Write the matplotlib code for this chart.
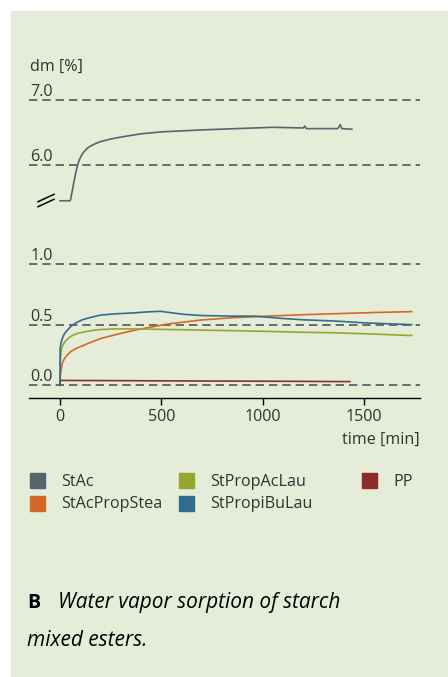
import matplotlib.pyplot as plt
from matplotlib.lines import Line2D
from matplotlib.patches import Rectangle
import matplotlib.transforms as mtransforms

plt.rcParams['font.family'] = ['Open Sans', 'DejaVu Sans']

W, H = 448, 677

# StAc (upper, broken axis part)
t_stac = [0, 50, 53, 57, 62, 67, 72, 77, 82, 87, 93, 100, 110, 120, 135, 150, 175,
          200, 250, 300, 400, 500, 700, 870, 1050, 1200, 1208, 1215, 1370, 1383,
          1390, 1440]
v_stac = [5.45, 5.45, 5.48, 5.55, 5.63, 5.71, 5.79, 5.87, 5.94, 6.00, 6.06, 6.11,
          6.17, 6.21, 6.26, 6.29, 6.33, 6.36, 6.40, 6.43, 6.48, 6.51, 6.54, 6.56,
          6.58, 6.57, 6.60, 6.56, 6.56, 6.62, 6.56, 6.55]

# lower part
t_blue = [0, 0.5, 5, 10, 20, 36, 60, 85, 110, 140, 200, 280, 365, 430, 497, 540,
          612, 700, 858, 957, 1000, 1105, 1200, 1352, 1500, 1650, 1735]
v_blue = [0.0, 0.30, 0.35, 0.38, 0.42, 0.455, 0.495, 0.52, 0.54, 0.555, 0.579,
          0.59, 0.597, 0.605, 0.61, 0.60, 0.585, 0.575, 0.57, 0.57, 0.565, 0.55,
          0.54, 0.53, 0.515, 0.505, 0.50]

t_orange = [0, 2, 5, 11, 20, 36, 55, 80, 118, 160, 200, 280, 365, 450, 530, 694,
            850, 1023, 1200, 1352, 1550, 1735]
v_orange = [0.0, 0.08, 0.12, 0.18, 0.215, 0.25, 0.28, 0.305, 0.33, 0.36, 0.385,
            0.42, 0.453, 0.48, 0.505, 0.538, 0.557, 0.57, 0.582, 0.59, 0.60, 0.607]

t_green = [0, 2, 5, 11, 20, 36, 55, 80, 118, 160, 200, 280, 365, 530, 700, 858,
           1000, 1200, 1352, 1550, 1735]
v_green = [0.0, 0.2, 0.27, 0.32, 0.35, 0.38, 0.405, 0.425, 0.44, 0.452, 0.46,
           0.465, 0.465, 0.46, 0.455, 0.45, 0.445, 0.437, 0.433, 0.422, 0.41]

t_pp = [0, 2, 300, 700, 1100, 1430]
v_pp = [0.0, 0.04, 0.038, 0.035, 0.033, 0.03]

labels = ["StAc", "StAcPropStea", "StPropAcLau", "StPropiBuLau", "PP"]
colors = ["#56646E", "#D5672A", "#95A72F", "#346C8F", "#8E2C2C"]

top_ticks = [6.0, 7.0]
bottom_ticks = [0.0, 0.5, 1.0]
x_ticks = [0, 500, 1000, 1500]

FS = 11.6
TXT = "#333333"

fig = plt.figure(figsize=(W / 100, H / 100), dpi=100)
fig.patch.set_facecolor("white")
fig.patches.append(Rectangle((11 / W, 0), 1 - 11 / W, 1 - 11 / H,
                             transform=fig.transFigure, color="#E5ECD8", zorder=-5))


def box(x0, y0, x1, y1):
    # pixel box (top-left origin) -> figure fraction
    return [x0 / W, 1 - y1 / H, (x1 - x0) / W, (y1 - y0) / H]


ax_top = fig.add_axes(box(29, 90, 420, 210))
ax_bot = fig.add_axes(box(29, 240, 420, 398))
for ax in (ax_top, ax_bot):
    ax.set_facecolor("none")
    ax.set_xlim(-153, 1776)
    for s in ax.spines.values():
        s.set_visible(False)
ax_top.set_ylim(5.308, 7.154)
ax_bot.set_ylim(-0.105, 1.198)
ax_top.set_xticks([])
ax_top.set_yticks([])
ax_bot.set_yticks([])

grid_kw = dict(color="#555555", lw=1.2, linestyle=(0, (5, 3)), zorder=1)
for ax, ticks in ((ax_top, top_ticks), (ax_bot, bottom_ticks)):
    trans = mtransforms.blended_transform_factory(ax.transAxes, ax.transData)
    for v in ticks:
        ax.axhline(v, **grid_kw)
        ax.text(0.003, v, f"{v:.1f}", transform=trans, va="bottom", ha="left",
                fontsize=FS, color=TXT)

ax_top.plot(t_stac, v_stac, color=colors[0], lw=1.2, zorder=3)
ax_bot.plot(t_orange, v_orange, color=colors[1], lw=1.2, zorder=3)
ax_bot.plot(t_green, v_green, color=colors[2], lw=1.2, zorder=3)
ax_bot.plot(t_blue, v_blue, color=colors[3], lw=1.2, zorder=4)
ax_bot.plot(t_pp, v_pp, color=colors[4], lw=1.2, zorder=3)

ax_bot.spines["bottom"].set_visible(True)
ax_bot.spines["bottom"].set_linewidth(1.0)
ax_bot.set_xticks(x_ticks)
ax_bot.tick_params(axis="x", length=5, width=1.0, labelsize=FS,
                   labelcolor=TXT, pad=3)

# break marker
for y0, y1 in ((201.7, 194.3), (206.7, 199.3)):
    fig.lines.append(Line2D([38 / W, 54 / W], [1 - y0 / H, 1 - y1 / H],
                            transform=fig.transFigure, color="black", lw=1.1))

fig.text(30 / W, 1 - 71 / H, "dm [%]", fontsize=FS, color=TXT)
fig.text(420 / W, 1 - 444 / H, "time [min]", fontsize=FS, color=TXT, ha="right")

# legend
leg_pos = [(30, 473), (30, 496), (179, 473), (179, 496), (362, 473)]
for (x, y), lab, c in zip(leg_pos, labels, colors):
    fig.patches.append(Rectangle((x / W, 1 - (y + 15) / H), 15 / W, 15 / H,
                                 transform=fig.transFigure, color=c))
    fig.text((x + 31) / W, 1 - (y + 8.5) / H, lab, fontsize=FS, color=TXT,
             va="center")

fig.text(27 / W, 1 - 608 / H, "B", fontsize=14, fontweight="bold", color="black")
fig.text(58 / W, 1 - 608 / H, "Water vapor sorption of starch", fontsize=15,
         style="italic", color="black")
fig.text(27 / W, 1 - 646 / H, "mixed esters.", fontsize=15, style="italic",
         color="black")

fig.savefig("out.png", dpi=100)
